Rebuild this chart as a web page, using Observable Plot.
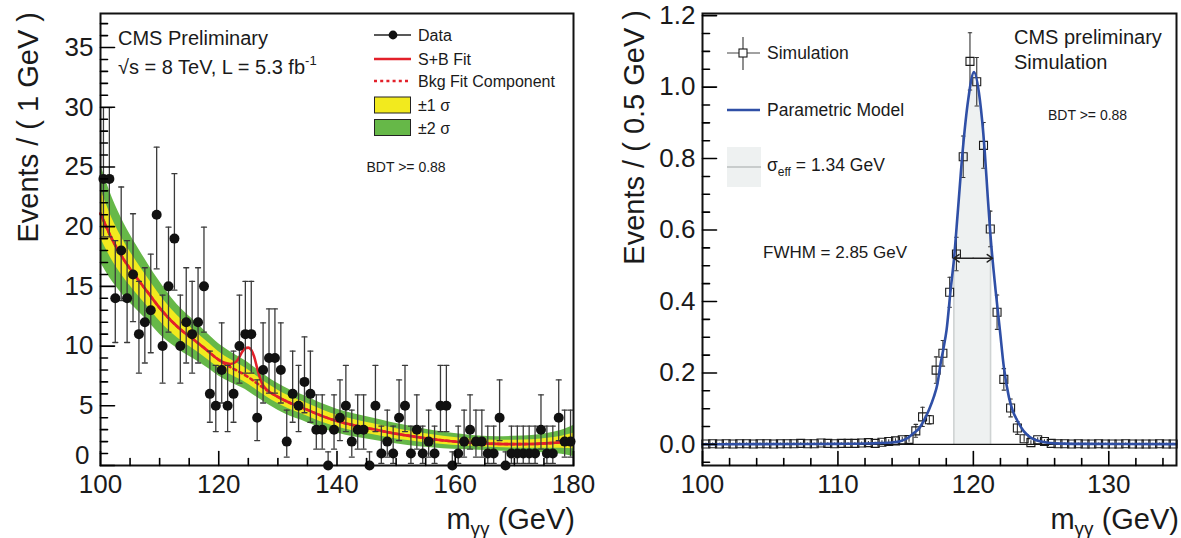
<!DOCTYPE html>
<html><head><meta charset="utf-8">
<script src="https://cdn.jsdelivr.net/npm/d3@7"></script>
<script src="https://cdn.jsdelivr.net/npm/@observablehq/plot@0.6"></script>
<style>
html,body{margin:0;padding:0;background:#fff;}
#wrap{position:relative;width:1181px;height:538px;overflow:hidden;background:#fff;}
#wrap svg{position:absolute;top:0;}
</style></head><body><div id="wrap"></div>
<script>
// ---------------- LEFT PANEL DATA ----------------
// bin centers 100.5 ... 179.5 (1 GeV bins)
const dataMass = d3.range(100.5, 180, 1);
const dataCounts = [24,24,14,18,14,16,11,12,13,21,10,15,19,10,12,11,12,15,6,5,
  8,5,6,10,11,11,4,8,9,9,8,2,6,5,7,6,3,3,0,3,
  4,5,2,3,3,0,5,1,2,1,4,5,1,3,1,2,1,5,5,0,
  1,2,3,2,2,1,1,4,0,1,1,1,1,1,3,1,1,4,2,2];
// 68% Poisson intervals indexed by count
const poissonLow  = [0,0.173,0.708,1.367,2.086,2.840,3.620,4.419,5.232,6.057,6.891,7.734,8.585,9.441,10.30,11.17,12.04,12.92,13.80,14.68,15.57,16.46,17.35,18.24,19.14];
const poissonHigh = [1.148,3.300,4.638,5.918,7.163,8.382,9.584,10.77,11.95,13.11,14.27,15.42,16.56,17.70,18.83,19.96,21.08,22.20,23.32,24.44,25.55,26.66,27.76,28.87,29.97];
const bkgMass = [100,102,104,106,108,110,112,114,116,118,120,122,124,125,126,127,128,130,132,134,136,138,140,143,146,149,152,155,158,161,164,167,170,173,176,178,180];
const bkgFit  = [21.1,18.9,17.2,15.8,14.5,13.2,12.1,11.2,10.45,9.65,8.85,8.23,7.7,7.4,7.05,6.7,6.35,5.75,5.25,4.87,4.45,4.05,3.72,3.35,3.05,2.75,2.5,2.28,2.1,1.97,1.87,1.81,1.79,1.8,1.87,1.95,2.05];
const band2Sigma = [4.1,3.5,3.05,2.7,2.4,2.2,1.95,1.75,1.6,1.45,1.35,1.28,1.22,1.2,1.18,1.16,1.14,1.12,1.1,1.08,1.06,1.03,1.0,0.96,0.92,0.87,0.82,0.76,0.7,0.64,0.6,0.6,0.65,0.72,0.85,1.0,1.3];
const band1Sigma = [2.05,1.75,1.52,1.35,1.2,1.1,0.98,0.88,0.8,0.73,0.68,0.64,0.61,0.6,0.59,0.58,0.57,0.56,0.55,0.54,0.53,0.52,0.5,0.48,0.46,0.44,0.41,0.38,0.35,0.32,0.3,0.3,0.33,0.36,0.43,0.5,0.65];
const sbMass = [100,102,104,106,108,110,112,114,116,118,120,121,122,123,123.5,124,124.5,125,125.5,126,126.5,127,127.5,128,130,132,134,136,138,140,143,146,149,152,155,158,161,164,167,170,173,176,178,180];
const sbFit  = [21.1,18.9,17.2,15.8,14.5,13.2,12.1,11.2,10.45,9.65,8.85,8.6,8.5,8.72,9.1,9.55,9.82,9.87,9.68,9.1,8.15,7.3,6.7,6.4,5.75,5.25,4.87,4.45,4.05,3.72,3.35,3.05,2.75,2.5,2.28,2.1,1.97,1.87,1.81,1.79,1.8,1.87,1.95,2.05];
const leftXLabels = [100,120,140,160,180];
const leftYLabels = [0,5,10,15,20,25,30,35];

// ---------------- RIGHT PANEL DATA ----------------
const simMass = d3.range(100.25, 135, 0.5);
const simVal = [0.001,0.002,0.001,0.002,0.001,0.002,0.002,0.001,0.002,0.002,
  0.001,0.002,0.002,0.002,0.003,0.002,0.002,0.004,0.003,0.002,
  0.003,0.003,0.003,0.004,0.005,0.003,0.006,0.008,0.010,0.013,
  0.014,0.038,0.077,0.069,0.208,0.255,0.426,0.533,0.805,1.072,
  1.015,0.837,0.603,0.370,0.182,0.102,0.046,0.016,0.005,0.013,
  0.008,0.003,0.002,0.002,0.001,0.002,0.001,0.001,0.002,0.001,
  0.001,0.001,0.002,0.001,0.001,0.001,0.001,0.002,0.001,0.001];
const simErr = [0.002,0.002,0.002,0.002,0.002,0.002,0.002,0.002,0.002,0.002,
  0.002,0.002,0.002,0.002,0.002,0.002,0.002,0.002,0.002,0.002,
  0.002,0.002,0.002,0.003,0.003,0.003,0.004,0.005,0.006,0.007,
  0.008,0.018,0.027,0.012,0.037,0.036,0.042,0.047,0.058,0.080,
  0.068,0.064,0.050,0.048,0.030,0.025,0.018,0.010,0.005,0.006,
  0.005,0.002,0.002,0.002,0.002,0.002,0.002,0.002,0.002,0.002,
  0.002,0.002,0.002,0.002,0.002,0.002,0.002,0.002,0.002,0.002];
const modelMass = [100,104,108,110,112,113,114,114.6,115.1,115.6,116,116.35,116.7,117.08,117.35,117.58,117.8,118.02,118.32,118.56,118.85,119.22,119.62,120.05,120.48,120.83,121.05,121.27,121.64,121.96,122.25,122.62,122.9,123.24,123.7,124.2,124.7,125.3,126,128,131,135];
const modelVal  = [0.0005,0.0008,0.0012,0.0016,0.0025,0.0035,0.0055,0.009,0.017,0.032,0.045,0.067,0.095,0.133,0.17,0.226,0.27,0.32,0.432,0.515,0.65,0.825,0.965,1.042,0.965,0.825,0.70,0.582,0.432,0.32,0.217,0.133,0.095,0.067,0.038,0.02,0.011,0.006,0.003,0.0015,0.001,0.0008];
const sigmaEffRange = [118.56, 121.27];
const fwhmEnds = [118.55, 121.42];
const fwhmLevel = 0.521;
const rightXLabels = [100,110,120,130];
const rightYLabels = [0,0.2,0.4,0.6,0.8,1.0,1.2];

// ---------------- STYLE ----------------
const FONT = '"Liberation Sans", Arial, Helvetica, sans-serif';
const RED = "#e3202a", GREEN = "#66b848", YELLOW = "#f2ea1e", BLUE = "#2f4fa6";
const TXT = "#1a1a1a";
const tickShape = {draw(ctx, l) { ctx.moveTo(0, 0); ctx.lineTo(0, -l); }};

function ticksFrom(vals, anchor, len, sw) {
  const o = {frameAnchor: anchor, length: len, anchor: "start", shape: tickShape, stroke: "black", strokeWidth: sw};
  if (anchor === "left") return Plot.vector(vals, {...o, y: d => d, rotate: 90});
  return Plot.vector(vals, {...o, x: d => d, rotate: 0});
}
function notIn(arr, majors) { return arr.filter(v => !majors.some(m => Math.abs(m - v) < 1e-6)); }

function addText(svg, x, y, parts, {size = 16, anchor = "start", rotate = 0, fill = TXT} = {}) {
  const t = d3.select(svg).append("text")
    .attr("transform", `translate(${x},${y})` + (rotate ? ` rotate(${rotate})` : ""))
    .attr("font-size", size).attr("text-anchor", anchor).attr("fill", fill)
    .attr("font-family", FONT);
  for (const p of parts) {
    const s = t.append("tspan").text(typeof p === "string" ? p : p.text);
    if (typeof p !== "string") {
      if (p.size) s.attr("font-size", p.size);
      if (p.dy) s.attr("dy", p.dy);
    }
  }
  return t;
}

const wrap = document.getElementById("wrap");

// ================= LEFT PLOT =================
const dataRows = dataMass.map((m, i) => ({m, n: dataCounts[i], lo: poissonLow[dataCounts[i]], hi: poissonHigh[dataCounts[i]]}));
const bkgRows = bkgMass.map((m, i) => ({m, b: bkgFit[i], e1: band1Sigma[i], e2: band2Sigma[i]}));
const sbRows = sbMass.map((m, i) => ({m, v: sbFit[i]}));

const lMajY = leftYLabels, lMinY = notIn(d3.range(0, 38, 1), lMajY);
const lMajX = leftXLabels, lMinX = notIn(d3.range(100, 181, 5), lMajX);

const left = Plot.plot({
  width: 590, height: 538,
  marginLeft: 100, marginRight: 17, marginTop: 13, marginBottom: 73,
  x: {domain: [100, 180]},
  y: {domain: [0, 37.85]},
  style: {fontFamily: FONT, background: "transparent", color: TXT, overflow: "visible"},
  marks: [
    Plot.areaY(bkgRows, {x: "m", y1: d => d.b - d.e2, y2: d => d.b + d.e2, fill: GREEN, curve: "monotone-x"}),
    Plot.areaY(bkgRows, {x: "m", y1: d => d.b - d.e1, y2: d => d.b + d.e1, fill: YELLOW, curve: "monotone-x"}),
    Plot.line(bkgRows, {x: "m", y: "b", stroke: RED, strokeWidth: 2.6, strokeDasharray: "3,3.5", curve: "monotone-x"}),
    Plot.line(sbRows, {x: "m", y: "v", stroke: RED, strokeWidth: 2.6, curve: "monotone-x"}),
    Plot.ruleX(dataRows, {x: "m", y1: "lo", y2: "hi", stroke: "#3a3a3a", strokeWidth: 1.3}),
    Plot.vector(dataRows, {x: "m", y: "hi", rotate: 90, length: 5, anchor: "middle", shape: tickShape, stroke: "#3a3a3a", strokeWidth: 1.3}),
    Plot.vector(dataRows.filter(d => d.lo > 0), {x: "m", y: "lo", rotate: 90, length: 5, anchor: "middle", shape: tickShape, stroke: "#3a3a3a", strokeWidth: 1.3}),
    Plot.dot(dataRows, {x: "m", y: "n", r: 5, fill: "#111", stroke: "none"}),
    Plot.frame({stroke: "#111", strokeWidth: 2}),
    ticksFrom(lMajY, "left", 14, 1.6),
    ticksFrom(lMinY, "left", 7, 1.6),
    ticksFrom(lMajX, "bottom", 14, 1.6),
    ticksFrom(lMinX, "bottom", 7, 1.6),
    Plot.axisY({ticks: leftYLabels.filter(d => d > 0), tickSize: 0, tickPadding: 7, fontSize: 26, label: null, tickFormat: d => String(d)}),
    Plot.axisY({ticks: [0], tickSize: 0, tickPadding: 11, dy: -10, fontSize: 26, label: null, tickFormat: d => String(d)}),
    Plot.axisX({ticks: leftXLabels, tickSize: 0, tickPadding: 9, fontSize: 26, label: null, tickFormat: d => String(d)})
  ]
});
left.style.left = "0px";
wrap.appendChild(left);

// left annotations
addText(left, 38, 12, ["Events / ( 1 GeV )"], {size: 29, anchor: "end", rotate: -90});
addText(left, 575, 529, ["m", {text: "γγ", size: 19, dy: 6}, {text: " (GeV)", dy: -6}], {size: 29, anchor: "end"});
addText(left, 118, 44.5, ["CMS Preliminary"], {size: 20});
addText(left, 118, 73.5, ["√s = 8 TeV, L = 5.3 fb", {text: "-1", size: 13, dy: -9}], {size: 20});
{
  const g = d3.select(left).append("g");
  g.append("line").attr("x1", 374).attr("x2", 411).attr("y1", 35).attr("y2", 35).attr("stroke", "#222").attr("stroke-width", 1.3);
  g.append("circle").attr("cx", 393).attr("cy", 35).attr("r", 4.4).attr("fill", "#111");
  g.append("line").attr("x1", 374).attr("x2", 411).attr("y1", 59).attr("y2", 59).attr("stroke", RED).attr("stroke-width", 2.6);
  g.append("line").attr("x1", 374).attr("x2", 411).attr("y1", 81).attr("y2", 81).attr("stroke", RED).attr("stroke-width", 2.6).attr("stroke-dasharray", "3,3.2");
  g.append("rect").attr("x", 374.5).attr("y", 97).attr("width", 36).attr("height", 16).attr("fill", YELLOW).attr("stroke", "#222").attr("stroke-width", 1);
  g.append("rect").attr("x", 374.5).attr("y", 119.5).attr("width", 36).attr("height", 16).attr("fill", GREEN).attr("stroke", "#222").attr("stroke-width", 1);
}
addText(left, 418, 40.5, ["Data"], {size: 16});
addText(left, 418, 64.5, ["S+B Fit"], {size: 16});
addText(left, 418, 86.5, ["Bkg Fit Component"], {size: 16});
addText(left, 418, 111, ["±1 σ"], {size: 16});
addText(left, 418, 133.5, ["±2 σ"], {size: 16});
addText(left, 366.5, 171.5, ["BDT >= 0.88"], {size: 14});

// ================= RIGHT PLOT =================
const OFF = 590;
const simRows = simMass.map((m, i) => ({m, v: simVal[i], e: simErr[i]}));
const modelRows = modelMass.map((m, i) => ({m, v: modelVal[i]}));
const effRows = modelRows.filter(d => d.m >= sigmaEffRange[0] - 1e-9 && d.m <= sigmaEffRange[1] + 1e-9);
const effEdges = [effRows[0], effRows[effRows.length - 1]];
const fwhmMid = (fwhmEnds[0] + fwhmEnds[1]) / 2;

const rMajY = rightYLabels, rMinY = notIn(d3.range(-0.05, 1.21, 0.05).map(v => +v.toFixed(2)), rMajY);
const rMajX = rightXLabels, rMinX = notIn(d3.range(100, 135.1, 2), rMajX);

const right = Plot.plot({
  width: 591, height: 538,
  marginLeft: 112, marginRight: 5, marginTop: 13, marginBottom: 73,
  x: {domain: [100, 135]},
  y: {domain: [-0.059, 1.206]},
  style: {fontFamily: FONT, background: "transparent", color: TXT, overflow: "visible"},
  marks: [
    Plot.areaY(effRows, {x: "m", y1: 0, y2: "v", fill: "#eef1f1", curve: "monotone-x"}),
    Plot.ruleX(effEdges, {x: "m", y1: 0, y2: "v", stroke: "#cfd3d3", strokeWidth: 1.6}),
    Plot.ruleY([0], {stroke: "#111", strokeWidth: 1.1}),
    Plot.ruleX(simRows, {x: "m", y1: d => d.v - d.e, y2: d => d.v + d.e, stroke: "#333", strokeWidth: 1.1}),
    Plot.vector(simRows.filter(d => d.e > 0.01), {x: "m", y: d => d.v + d.e, rotate: 90, length: 3.5, anchor: "middle", shape: tickShape, stroke: "#333", strokeWidth: 1.1}),
    Plot.vector(simRows.filter(d => d.e > 0.01), {x: "m", y: d => d.v - d.e, rotate: 90, length: 3.5, anchor: "middle", shape: tickShape, stroke: "#333", strokeWidth: 1.1}),
    Plot.dot(simRows, {x: "m", y: "v", symbol: "square", r: 4.5, stroke: "#1a1a1a", strokeWidth: 1.1, fill: "none"}),
    Plot.line(modelRows, {x: "m", y: "v", stroke: BLUE, strokeWidth: 2.6, curve: "monotone-x"}),
    Plot.arrow(fwhmEnds, {x1: fwhmMid, x2: d => d, y1: fwhmLevel, y2: fwhmLevel, stroke: "#222", strokeWidth: 1.5, headLength: 13, headAngle: 70}),
    Plot.frame({stroke: "#111", strokeWidth: 2}),
    ticksFrom(rMajY, "left", 14, 1.6),
    ticksFrom(rMinY, "left", 7, 1.6),
    ticksFrom(rMajX, "bottom", 14, 1.6),
    ticksFrom(rMinX, "bottom", 7, 1.6),
    Plot.axisY({ticks: rightYLabels, tickSize: 0, tickPadding: 7, fontSize: 26, label: null, tickFormat: d3.format(".1f")}),
    Plot.axisX({ticks: rightXLabels, tickSize: 0, tickPadding: 9, fontSize: 26, label: null, tickFormat: d => String(d)})
  ]
});
right.style.left = OFF + "px";
wrap.appendChild(right);

addText(right, 644 - OFF, 10, ["Events / ( 0.5 GeV )"], {size: 29, anchor: "end", rotate: -90});
addText(right, 1179 - OFF, 529, ["m", {text: "γγ", size: 19, dy: 6}, {text: " (GeV)", dy: -6}], {size: 29, anchor: "end"});
addText(right, 1014 - OFF, 43.5, ["CMS preliminary"], {size: 20});
addText(right, 1014 - OFF, 68.5, ["Simulation"], {size: 20});
addText(right, 1048 - OFF, 120, ["BDT >= 0.88"], {size: 14});
addText(right, 763 - OFF, 258, ["FWHM = 2.85 GeV"], {size: 17});
{
  const g = d3.select(right).append("g").attr("transform", `translate(${-OFF},0)`);
  g.append("line").attr("x1", 743).attr("x2", 743).attr("y1", 37).attr("y2", 70).attr("stroke", "#444").attr("stroke-width", 1.2);
  g.append("line").attr("x1", 727).attr("x2", 760).attr("y1", 53).attr("y2", 53).attr("stroke", "#444").attr("stroke-width", 1.2);
  g.append("rect").attr("x", 739).attr("y", 49).attr("width", 8).attr("height", 8).attr("fill", "white").attr("stroke", "#1a1a1a").attr("stroke-width", 1.1);
  g.append("line").attr("x1", 727).attr("x2", 760).attr("y1", 110).attr("y2", 110).attr("stroke", BLUE).attr("stroke-width", 2.6);
  g.append("rect").attr("x", 727).attr("y", 147).attr("width", 34).attr("height", 40).attr("fill", "#eef1f1");
  g.append("line").attr("x1", 727).attr("x2", 761).attr("y1", 167).attr("y2", 167).attr("stroke", "#c8cccc").attr("stroke-width", 2);
}
addText(right, 767 - OFF, 59, ["Simulation"], {size: 17.5});
addText(right, 767 - OFF, 116, ["Parametric Model"], {size: 17.5});
addText(right, 767 - OFF, 171, ["σ", {text: "eff", size: 12, dy: 5}, {text: " = 1.34 GeV", dy: -5}], {size: 17.5});
</script></body></html>
